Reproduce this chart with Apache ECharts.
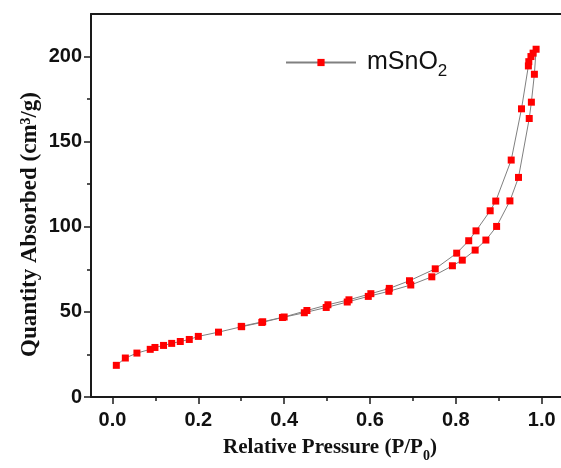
<!DOCTYPE html>
<html>
<head>
<meta charset="utf-8">
<script src="https://cdn.jsdelivr.net/npm/echarts@6/dist/echarts.min.js"></script>
<style>
  * { margin: 0; padding: 0; }
  body { background: #fff; }
</style>
</head>
<body>
<div id="chart" style="width: 561px;height: 468px;"></div>
<script>
  // adsorption branch (low -> high pressure)
  var adsX = [0.009, 0.030, 0.057, 0.088, 0.099, 0.119, 0.138, 0.158, 0.179, 0.200, 0.247, 0.301,
    0.348, 0.396, 0.447, 0.498, 0.547, 0.596, 0.644, 0.695, 0.744, 0.792, 0.815, 0.845, 0.870,
    0.895, 0.926, 0.946, 0.971, 0.976, 0.983, 0.987]
  var adsY = [18.6, 22.9, 25.8, 28.0, 29.1, 30.3, 31.5, 32.6, 33.8, 35.6, 38.1, 41.3,
    43.8, 46.7, 49.5, 52.6, 55.8, 59.1, 62.1, 65.8, 70.6, 77.1, 80.4, 86.3, 92.2,
    100.2, 115.2, 129.0, 163.6, 173.2, 189.6, 204.3]
  // desorption branch (high -> low pressure)
  var desX = [0.980, 0.975, 0.970, 0.969, 0.953, 0.929, 0.893, 0.880, 0.847, 0.830, 0.802, 0.752,
    0.692, 0.645, 0.602, 0.551, 0.502, 0.453, 0.400, 0.350, 0.300]
  var desY = [202.0, 200.0, 197.0, 194.5, 169.3, 139.2, 115.1, 109.4, 97.6, 91.8, 84.5, 75.3,
    68.3, 63.8, 60.7, 57.1, 54.2, 50.8, 47.0, 44.2, 41.5]

  var xMajor = [0, 0.2, 0.4, 0.6, 0.8, 1.0]
  var xMinor = [0.1, 0.3, 0.5, 0.7, 0.9]
  var yMajor = [0, 50, 100, 150, 200]
  var yMinor = [25, 75, 125, 175]

  var points = []
  for (var i = 0; i < adsX.length; i++) points.push([adsX[i], adsY[i]])
  for (var j = 0; j < desX.length; j++) points.push([desX[j], desY[j]])

  var axisColor = '#1a1a1a'
  var labelFont = {color: '#111', fontFamily: 'Liberation Sans', fontWeight: 'bold', fontSize: 20}
  var titleFont = {color: '#111', fontFamily: 'Liberation Serif', fontWeight: 'bold', fontSize: 21}

  var myChart = echarts.init(document.getElementById('chart'))
  myChart.setOption({
    animation: false,
    backgroundColor: '#fff',
    grid: {left: 91, right: 0, top: 14, bottom: 71, outerBoundsMode: 'none'},
    legend: {
      left: 280,
      top: 45,
      itemWidth: 70,
      itemHeight: 9,
      data: ['mSnO2'],
      formatter: function () { return '{a|mSnO}{s|2}' },
      textStyle: {
        color: '#111',
        rich: {
          a: {fontFamily: 'Liberation Sans', fontSize: 25, color: '#111', padding: [0, 0, 0, 6]},
          s: {fontFamily: 'Liberation Sans', fontSize: 17, color: '#111', padding: [18, 0, 0, 0]}
        }
      }
    },
    xAxis: [
      {
        type: 'value', position: 'bottom', min: -0.05, max: 1.045,
        axisLine: {onZero: false, lineStyle: {color: axisColor, width: 2}},
        axisTick: {customValues: xMajor, length: 7, lineStyle: {color: axisColor, width: 1.5}},
        axisLabel: Object.assign({customValues: xMajor, margin: 13, formatter: function (v) { return v.toFixed(1) }}, labelFont),
        splitLine: {show: false},
        name: '{a|Relative Pressure (P/P}{s|0}{a|)}',
        nameLocation: 'middle',
        nameGap: 36,
        nameMoveOverlap: false,
        nameTextStyle: {
          padding: [0, 0, 0, 8],
          rich: {
            a: titleFont,
            s: Object.assign({}, titleFont, {fontSize: 14, padding: [16, 0, 0, 0]})
          }
        }
      },
      {
        type: 'value', position: 'bottom', min: -0.05, max: 1.045,
        axisLine: {show: false, onZero: false},
        axisTick: {customValues: xMinor, length: 4, lineStyle: {color: axisColor, width: 1.5}},
        axisLabel: {show: false},
        splitLine: {show: false}
      },
      {
        type: 'value', position: 'top', min: -0.05, max: 1.045,
        axisLine: {onZero: false, lineStyle: {color: axisColor, width: 2}},
        axisTick: {show: false},
        axisLabel: {show: false},
        splitLine: {show: false}
      }
    ],
    yAxis: [
      {
        type: 'value', position: 'left', min: 0, max: 225,
        axisLine: {onZero: false, lineStyle: {color: axisColor, width: 2}},
        axisTick: {customValues: yMajor, length: 7, lineStyle: {color: axisColor, width: 1.5}},
        axisLabel: Object.assign({customValues: yMajor, margin: 9}, labelFont),
        splitLine: {show: false},
        name: 'Quantity Absorbed (cm³/g)',
        nameLocation: 'middle',
        nameGap: 49,
        nameMoveOverlap: false,
        nameTextStyle: Object.assign({}, titleFont, {fontSize: 23, padding: [0, 38, 0, 0]})
      },
      {
        type: 'value', position: 'left', min: 0, max: 225,
        axisLine: {show: false, onZero: false},
        axisTick: {customValues: yMinor, length: 4, lineStyle: {color: axisColor, width: 1.5}},
        axisLabel: {show: false},
        splitLine: {show: false}
      }
    ],
    series: [{
      name: 'mSnO2',
      type: 'line',
      xAxisIndex: 0,
      yAxisIndex: 0,
      data: points,
      symbol: 'rect',
      symbolSize: 7,
      itemStyle: {color: '#ff0000'},
      lineStyle: {color: '#808080', width: 1}
    }]
  })
</script>
</body>
</html>
